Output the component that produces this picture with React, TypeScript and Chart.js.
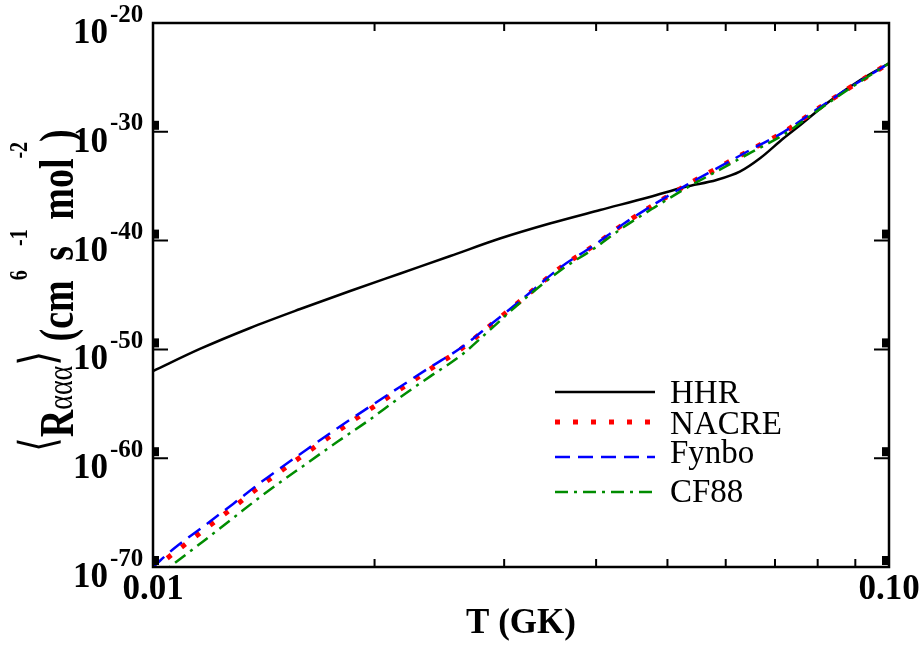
import React, { useEffect, useRef } from "react";
import { Chart, registerables } from "chart.js";

Chart.register(...registerables);

// ---- data (T in GK, log10 of rate) ----
const hhrT = [0.01, 0.01158, 0.01355, 0.01585, 0.01853, 0.02168, 0.02535, 0.0296, 0.0346, 0.0405, 0.0473, 0.0528, 0.0583, 0.0627, 0.0668, 0.0719, 0.0757, 0.0832, 0.0914, 0.1];
const hhrLog = [-52.0, -49.96, -48.03, -46.29, -44.63, -43.02, -41.42, -39.81, -38.43, -37.19, -35.99, -35.07, -34.43, -33.67, -32.44, -30.6, -29.4, -27.14, -25.24, -23.7];

const rateT = [0.01, 0.010678, 0.011695, 0.012847, 0.014057, 0.016178, 0.017823, 0.019613, 0.021616, 0.023781, 0.026213, 0.0287, 0.031427, 0.035918, 0.039646, 0.043551, 0.048083, 0.053113, 0.058749, 0.065059, 0.072077, 0.079341, 0.08741, 0.1];
const nacreLog = [-70.2, -68.71, -66.66, -64.53, -62.46, -59.49, -57.5, -55.6, -53.7, -51.83, -49.96, -47.82, -45.64, -42.4, -40.5, -38.5, -36.64, -34.89, -33.26, -31.61, -29.99, -28.06, -26.16, -23.7];
const fynboLog = [-70.0, -68.3, -66.3, -64.2, -62.15, -59.2, -57.22, -55.35, -53.48, -51.65, -49.85, -47.76, -45.62, -42.38, -40.48, -38.48, -36.62, -34.88, -33.25, -31.6, -29.98, -28.05, -26.15, -23.7];
const cf88Log = [-71.2, -69.7, -67.65, -65.5, -63.45, -60.48, -58.47, -56.55, -54.45, -52.5, -50.55, -48.2, -45.8, -42.65, -40.78, -38.78, -36.92, -35.15, -33.52, -31.87, -30.22, -28.22, -26.25, -23.7];

const seriesNames = ["HHR", "NACRE", "Fynbo", "CF88"];
const yDecades = [-20, -30, -40, -50, -60, -70];
const xTickLabels = [
  { v: 0.01, t: "0.01" },
  { v: 0.1, t: "0.10" },
];
const xMinorTicks = [0.02, 0.03, 0.04, 0.05, 0.06, 0.07, 0.08, 0.09];
const xTitle = "T (GK)";

const SERIF = '"Liberation Serif", "Times New Roman", serif';

const styles = [
  { color: "#000000", width: 2.5, dash: [] as number[] },
  { color: "#ff0000", width: 5, dash: [5, 13] },
  { color: "#0000ff", width: 2.5, dash: [15, 8] },
  { color: "#008c00", width: 2.5, dash: [13, 6, 3, 6] },
];

const toPts = (ts: number[], ls: number[]) => ts.map((t, i) => ({ x: t, y: Math.pow(10, ls[i]) }));

const decorPlugin = {
  id: "decor",
  afterDatasetsDraw(chart: any) {
    const ctx: CanvasRenderingContext2D = chart.ctx;
    const { left, right, top, bottom } = chart.chartArea;
    const xs = chart.scales.x;
    const ys = chart.scales.y;
    ctx.save();
    ctx.setLineDash([]);
    ctx.strokeStyle = "#000";
    ctx.fillStyle = "#000";

    // frame
    ctx.lineWidth = 2.5;
    ctx.strokeRect(left, top, right - left, bottom - top);

    // y major ticks (inward) and small squares
    ctx.lineWidth = 2;
    for (const d of yDecades) {
      const y = ys.getPixelForValue(Math.pow(10, d));
      if (d !== -20 && d !== -70) {
        ctx.beginPath();
        ctx.moveTo(left, y);
        ctx.lineTo(left + 15, y);
        ctx.moveTo(right, y);
        ctx.lineTo(right - 15, y);
        ctx.stroke();
      }
      if (d !== -20) {
        ctx.fillRect(left, y - 11, 6, 9);
        ctx.fillRect(right - 7, y - 11, 6, 9);
      }
    }

    // x minor ticks top & bottom
    for (const v of xMinorTicks) {
      const x = xs.getPixelForValue(v);
      ctx.beginPath();
      ctx.moveTo(x, bottom);
      ctx.lineTo(x, bottom - 8);
      ctx.moveTo(x, top);
      ctx.lineTo(x, top + 8);
      ctx.stroke();
    }

    // y tick labels 10^n
    ctx.textBaseline = "alphabetic";
    for (const d of yDecades) {
      const y = ys.getPixelForValue(Math.pow(10, d));
      ctx.font = `bold 35px ${SERIF}`;
      ctx.textAlign = "right";
      ctx.fillText("10", 108, y + 20);
      ctx.font = `bold 25px ${SERIF}`;
      ctx.textAlign = "left";
      ctx.fillText(String(d), 110, y - 1.5);
    }

    // x tick labels
    ctx.font = `bold 35px ${SERIF}`;
    ctx.textAlign = "center";
    for (const t of xTickLabels) {
      let x = xs.getPixelForValue(t.v);
      const w = ctx.measureText(t.t).width;
      if (x + w / 2 > chart.width - 2) x = chart.width - 2 - w / 2;
      ctx.fillText(t.t, x, 599);
    }

    // x title
    ctx.font = `bold 35px ${SERIF}`;
    ctx.textAlign = "center";
    ctx.fillText(xTitle, (left + right) / 2, 633);

    // y title (rotated, glyphs stretched across the text direction)
    ctx.save();
    ctx.translate(73, 452);
    ctx.rotate(-Math.PI / 2);
    ctx.scale(1, 1.3);
    ctx.textAlign = "left";
    const main = `bold 38px ${SERIF}`;
    const sup = `bold 20px ${SERIF}`;
    const brk = `38px "DejaVu Sans"`;
    const supDy = -35.4;
    const brkDy = -14.4;
    const pieces = [
      { t: "\u27E8", f: brk, dy: brkDy },
      { t: "R", f: main, dy: 0 },
      { t: "\u03B1\u03B1\u03B1", f: `28px ${SERIF}`, dy: -1 },
      { t: "\u27E9", f: brk, dy: brkDy },
      { t: " (cm", f: main, dy: 0 },
      { t: "6", f: sup, dy: supDy },
      { t: " s", f: main, dy: 0 },
      { t: "-1", f: sup, dy: supDy },
      { t: " mol", f: main, dy: 0 },
      { t: "-2", f: sup, dy: supDy },
      { t: ")", f: main, dy: 0 },
    ];
    let px = 0;
    for (const p of pieces) {
      ctx.font = p.f;
      ctx.fillText(p.t, px, p.dy);
      px += ctx.measureText(p.t).width;
    }
    ctx.restore();

    // legend
    const lx0 = 555, lx1 = 655, tx = 670;
    const lineYs = [392, 422, 457, 492];
    const textYs = [403, 434, 463, 502];
    ctx.font = `33px ${SERIF}`;
    ctx.textAlign = "left";
    seriesNames.forEach((name, i) => {
      const s = styles[i];
      ctx.save();
      ctx.strokeStyle = s.color;
      ctx.lineWidth = s.width;
      ctx.setLineDash(s.dash);
      ctx.lineCap = "butt";
      ctx.beginPath();
      ctx.moveTo(lx0, lineYs[i]);
      ctx.lineTo(lx1, lineYs[i]);
      ctx.stroke();
      ctx.restore();
      ctx.fillStyle = "#000";
      ctx.fillText(name, tx, textYs[i]);
    });

    ctx.restore();
  },
};

export default function App() {
  const ref = useRef<HTMLCanvasElement | null>(null);
  useEffect(() => {
    document.body.style.margin = "0";
    const canvas = ref.current;
    if (!canvas) return;
    const seriesData = [toPts(hhrT, hhrLog), toPts(rateT, nacreLog), toPts(rateT, fynboLog), toPts(rateT, cf88Log)];
    const orders = [3, 2, 1, 0];
    const chart = new Chart(canvas, {
      type: "line",
      data: {
        datasets: seriesNames.map((name, i) => ({
          label: name,
          data: seriesData[i],
          borderColor: styles[i].color,
          backgroundColor: styles[i].color,
          borderWidth: styles[i].width,
          borderDash: styles[i].dash,
          borderCapStyle: "butt",
          pointRadius: 0,
          fill: false,
          cubicInterpolationMode: "monotone",
          clip: 0,
          order: orders[i],
        })),
      },
      options: {
        animation: false,
        responsive: false,
        devicePixelRatio: 1,
        layout: { padding: { left: 153, right: 35, top: 23, bottom: 79 } },
        plugins: { legend: { display: false }, tooltip: { enabled: false } },
        scales: {
          x: { type: "logarithmic", min: 0.01, max: 0.1, display: false },
          y: { type: "logarithmic", min: 1e-70, max: 1e-20, display: false },
        },
      },
      plugins: [decorPlugin],
    } as any);
    return () => chart.destroy();
  }, []);
  return (
    <div style={{ width: 924, height: 646 }}>
      <canvas ref={ref} width={924} height={646} style={{ display: "block" }} />
    </div>
  );
}
